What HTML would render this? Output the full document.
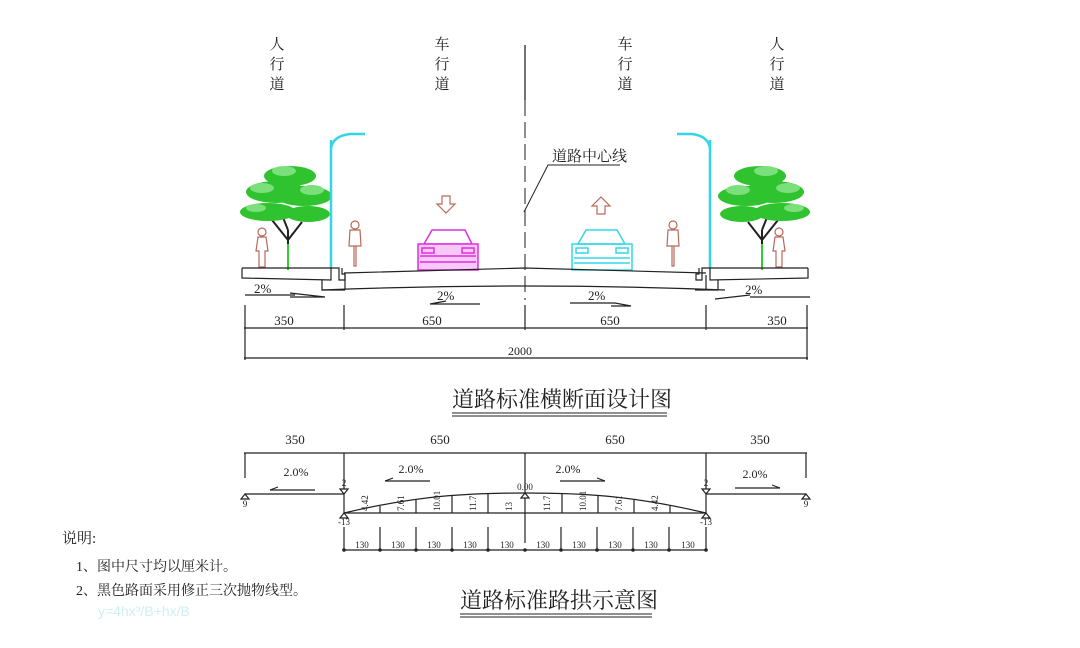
<!DOCTYPE html>
<html><head><meta charset="utf-8"><style>
html,body{margin:0;padding:0;background:#fff;width:1080px;height:648px;overflow:hidden}
svg{display:block}
text{font-family:"Liberation Serif","Noto Serif CJK SC",serif;fill:#222}
.cj{font-family:"Liberation Serif","Noto Serif CJK SC",serif}
</style></head><body>
<svg width="1080" height="648" viewBox="0 0 1080 648" xmlns="http://www.w3.org/2000/svg">
<defs>
<g id="tree">
  <path d="M48,110 L48,70 M48,80 L32,60 M48,80 L62,62 M48,70 L40,50" stroke="#222" stroke-width="2" fill="none"/>
  <line x1="48" y1="84" x2="48" y2="110" stroke="#3c3" stroke-width="2"/>
  <g fill="#2fc42f">
    <ellipse cx="50" cy="16" rx="26" ry="10"/>
    <ellipse cx="36" cy="32" rx="30" ry="11"/>
    <ellipse cx="64" cy="36" rx="28" ry="10"/>
    <ellipse cx="28" cy="52" rx="28" ry="9"/>
    <ellipse cx="68" cy="54" rx="22" ry="8"/>
  </g>
  <g fill="#7be07b">
    <ellipse cx="44" cy="11" rx="12" ry="5"/>
    <ellipse cx="22" cy="28" rx="12" ry="5"/>
    <ellipse cx="72" cy="30" rx="12" ry="5"/>
    <ellipse cx="16" cy="48" rx="10" ry="4"/>
  </g>
</g>
<g id="ped" fill="none" stroke="#b86a5a" stroke-width="1.2">
  <circle cx="0" cy="0" r="4"/><path d="M-4,5 h8 l2,14 h-3 v16 h-6 v-16 h-3 z"/>
</g>
<g id="bike" fill="none" stroke="#b86a5a" stroke-width="1.2">
  <circle cx="0" cy="0" r="4"/><path d="M-5,5 h10 l1,16 h-12 z M-1,21 v20 h2 v-20"/>
</g>
</defs>

<g font-size="15" text-anchor="middle">
  <text x="277" y="49" class="cj">人</text><text x="277" y="69" class="cj">行</text><text x="277" y="89" class="cj">道</text>
  <text x="442" y="49" class="cj">车</text><text x="442" y="69" class="cj">行</text><text x="442" y="89" class="cj">道</text>
  <text x="625" y="49" class="cj">车</text><text x="625" y="69" class="cj">行</text><text x="625" y="89" class="cj">道</text>
  <text x="777" y="49" class="cj">人</text><text x="777" y="69" class="cj">行</text><text x="777" y="89" class="cj">道</text>
</g>

<line x1="525" y1="45" x2="525" y2="100" stroke="#444" stroke-width="1.5"/>
<line x1="525" y1="100" x2="525" y2="300" stroke="#444" stroke-width="1.2" stroke-dasharray="16,6"/>
<text x="552" y="161" font-size="15" class="cj">道路中心线</text>
<polyline points="524,212 548,165 620,165" fill="none" stroke="#222" stroke-width="1"/>

<use href="#tree" x="240" y="160"/>
<use href="#tree" transform="translate(810,160) scale(-1,1)"/>
<g stroke="#33d6e6" stroke-width="2.5" fill="none">
  <line x1="331" y1="140" x2="331" y2="268"/>
  <path d="M331,148 Q333,136 350,134 L365,134"/>
  <line x1="710" y1="140" x2="710" y2="268"/>
  <path d="M710,148 Q708,136 692,134 L677,134"/>
</g>
<use href="#ped" x="262" y="232"/>
<use href="#ped" x="779" y="232"/>
<use href="#bike" x="355" y="225"/>
<use href="#bike" x="673" y="225"/>

<path d="M442,196 h8 v8 h5 l-9,9 l-9,-9 h5 z" fill="none" stroke="#b86a5a" stroke-width="1.2"/>
<path d="M597,214 h8 v-8 h5 l-9,-9 l-9,9 h5 z" fill="none" stroke="#b86a5a" stroke-width="1.2"/>

<g fill="none" stroke="#e02ee0" stroke-width="1.5">
  <path d="M424,244 L432,230 H465 L472,244 Z"/>
  <rect x="418" y="244" width="60" height="26" fill="#f8c8f8"/>
  <line x1="420" y1="256" x2="476" y2="256"/><line x1="420" y1="262" x2="476" y2="262"/>
  <rect x="422" y="248" width="12" height="5"/><rect x="462" y="248" width="12" height="5"/>
</g>
<g fill="none" stroke="#30d8e8" stroke-width="1.5">
  <path d="M578,244 L586,230 H617 L625,244 Z"/>
  <rect x="572" y="244" width="60" height="26"/>
  <line x1="574" y1="258" x2="630" y2="258"/><line x1="574" y1="263" x2="630" y2="263"/>
  <rect x="576" y="248" width="12" height="5"/><rect x="616" y="248" width="12" height="5"/>
</g>

<g fill="none" stroke="#222" stroke-width="1.2">
  <polyline points="242,268 331,268 331,280 242,278 242,268"/>
  <polyline points="808,268 710,268 710,280 808,278 808,268"/>
  <path d="M331,268 h8 v12 h6 v-6 h-3 v-6"/>
  <path d="M710,268 h-8 v12 h-6 v-6 h3 v-6"/>
  <path d="M344,273 L525,268 L706,273"/>
  <path d="M322,280 v10 h23 M718,280 v10 h-23"/>
  <path d="M322,290 Q525,282 725,290"/>
  <path d="M345,275 v15 M706,275 v15"/>
</g>
<g font-size="13">
  <text x="254" y="293">2%</text><text x="437" y="300">2%</text><text x="588" y="300">2%</text><text x="745" y="294">2%</text>
</g>
<g fill="none" stroke="#222" stroke-width="1.2">
  <path d="M245,295 h50 M290,293 l35,4 h-35"/>
  <path d="M430,304 h50 M430,304 l16,-3"/>
  <path d="M570,303 h45 l16,3 h-20"/>
  <path d="M750,297 h60 M715,299 l35,-4"/>
</g>
<g stroke="#222" stroke-width="1.2" fill="none">
  <line x1="244" y1="328" x2="808" y2="328"/>
  <line x1="244" y1="358" x2="808" y2="358"/>
  <line x1="245" y1="305" x2="245" y2="360"/>
  <line x1="807" y1="305" x2="807" y2="360"/>
  <line x1="344" y1="305" x2="344" y2="330"/>
  <line x1="525" y1="305" x2="525" y2="330"/>
  <line x1="706" y1="305" x2="706" y2="330"/>
</g>
<g font-size="13" text-anchor="middle">
  <text x="284" y="325">350</text><text x="432" y="325">650</text><text x="610" y="325">650</text><text x="777" y="325">350</text>
  <text x="520" y="355" font-size="12">2000</text>
</g>

<text x="452" y="407" font-size="22" class="cj">道路标准横断面设计图</text>
<line x1="452" y1="413" x2="667" y2="413" stroke="#222"/>
<line x1="452" y1="416" x2="667" y2="416" stroke="#222"/>

<g font-size="13" text-anchor="middle">
  <text x="295" y="444">350</text><text x="440" y="444">650</text><text x="615" y="444">650</text><text x="760" y="444">350</text>
</g>
<g stroke="#222" stroke-width="1.2" fill="none">
  <line x1="244" y1="453" x2="807" y2="453"/>
  <line x1="245" y1="453" x2="245" y2="478"/>
  <line x1="344" y1="453" x2="344" y2="513"/>
  <line x1="525" y1="453" x2="525" y2="543"/>
  <line x1="706" y1="453" x2="706" y2="513"/>
  <line x1="806" y1="453" x2="806" y2="478"/>
  <line x1="245" y1="494" x2="344" y2="494"/>
  <line x1="706" y1="494" x2="806" y2="494"/>
  <line x1="344" y1="513" x2="706" y2="513"/>
  <path d="M344,513 C420,495 470,493 525,493 C580,493 630,495 706,513"/>
  <line x1="380" y1="506" x2="380" y2="513"/><line x1="416" y1="500" x2="416" y2="513"/>
  <line x1="452" y1="496" x2="452" y2="513"/><line x1="488" y1="494" x2="488" y2="513"/>
  <line x1="670" y1="506" x2="670" y2="513"/><line x1="634" y1="500" x2="634" y2="513"/>
  <line x1="598" y1="496" x2="598" y2="513"/><line x1="562" y1="494" x2="562" y2="513"/>
  <path d="M270,490 h45 M385,481 h45 M560,481 h45 M735,488 h45"/>
  <path d="M270,490 l8,-3 M385,481 l8,-3 M605,481 l-8,-3 M780,488 l-8,-3"/>
  <line x1="344" y1="550" x2="706" y2="550"/>
</g>
<g stroke="#222" stroke-width="1.2">
  <line x1="344" y1="527" x2="344" y2="550"/><line x1="380" y1="527" x2="380" y2="550"/><line x1="416" y1="527" x2="416" y2="550"/>
  <line x1="452" y1="527" x2="452" y2="550"/><line x1="488" y1="527" x2="488" y2="550"/><line x1="561" y1="527" x2="561" y2="550"/>
  <line x1="597" y1="527" x2="597" y2="550"/><line x1="633" y1="527" x2="633" y2="550"/><line x1="669" y1="527" x2="669" y2="550"/><line x1="706" y1="527" x2="706" y2="550"/>
</g>
<g fill="#222">
  <circle cx="344" cy="550" r="1.8"/><circle cx="380" cy="550" r="1.8"/><circle cx="416" cy="550" r="1.8"/><circle cx="452" cy="550" r="1.8"/><circle cx="488" cy="550" r="1.8"/><circle cx="525" cy="550" r="1.8"/><circle cx="561" cy="550" r="1.8"/><circle cx="597" cy="550" r="1.8"/><circle cx="633" cy="550" r="1.8"/><circle cx="669" cy="550" r="1.8"/><circle cx="706" cy="550" r="1.8"/>
</g>
<g fill="#fff" stroke="#222" stroke-width="1.2">
  <path d="M245,494 l-4,5 h8 z"/><path d="M806,494 l-4,5 h8 z"/>
  <path d="M525,493 l-4,5 h8 z"/>
  <path d="M344,513 l-4,5 h8 z"/><path d="M706,513 l-4,5 h8 z"/>
  <path d="M344,494 l-4,-5 h8 z"/><path d="M706,494 l-4,-5 h8 z"/>
</g>
<g font-size="12" text-anchor="middle">
  <text x="296" y="476">2.0%</text><text x="411" y="473">2.0%</text><text x="568" y="473">2.0%</text><text x="755" y="478">2.0%</text>
</g>
<g font-size="9" text-anchor="middle">
  <text x="245" y="507">9</text><text x="806" y="507">9</text>
  <text x="344" y="486">2</text><text x="706" y="486">2</text>
  <text x="525" y="490">0.00</text>
  <text x="344" y="525">-13</text><text x="706" y="525">-13</text>
</g>
<g font-size="9">
  <text transform="translate(368,511) rotate(-90)">4.42</text>
  <text transform="translate(404,511) rotate(-90)">7.61</text>
  <text transform="translate(440,511) rotate(-90)">10.01</text>
  <text transform="translate(476,511) rotate(-90)">11.7</text>
  <text transform="translate(512,511) rotate(-90)">13</text>
  <text transform="translate(550,511) rotate(-90)">11.7</text>
  <text transform="translate(586,511) rotate(-90)">10.01</text>
  <text transform="translate(622,511) rotate(-90)">7.61</text>
  <text transform="translate(658,511) rotate(-90)">4.42</text>
</g>
<g font-size="9" text-anchor="middle">
  <text x="362" y="548">130</text><text x="398" y="548">130</text><text x="434" y="548">130</text><text x="470" y="548">130</text><text x="507" y="548">130</text>
  <text x="543" y="548">130</text><text x="579" y="548">130</text><text x="615" y="548">130</text><text x="651" y="548">130</text><text x="688" y="548">130</text>
</g>

<text x="62" y="543" font-size="15" class="cj">说明:</text>
<text x="76" y="571" font-size="14" class="cj">1、图中尺寸均以厘米计。</text>
<text x="76" y="595" font-size="14" class="cj">2、黑色路面采用修正三次抛物线型。</text>
<text x="98" y="616" font-size="14" style="fill:#cfeff0;font-family:'Liberation Sans',sans-serif">y=4hx³/B+hx/B</text>

<text x="460" y="608" font-size="22" class="cj">道路标准路拱示意图</text>
<line x1="460" y1="614" x2="652" y2="614" stroke="#222"/>
<line x1="460" y1="617" x2="652" y2="617" stroke="#222"/>
</svg>
</body></html>
